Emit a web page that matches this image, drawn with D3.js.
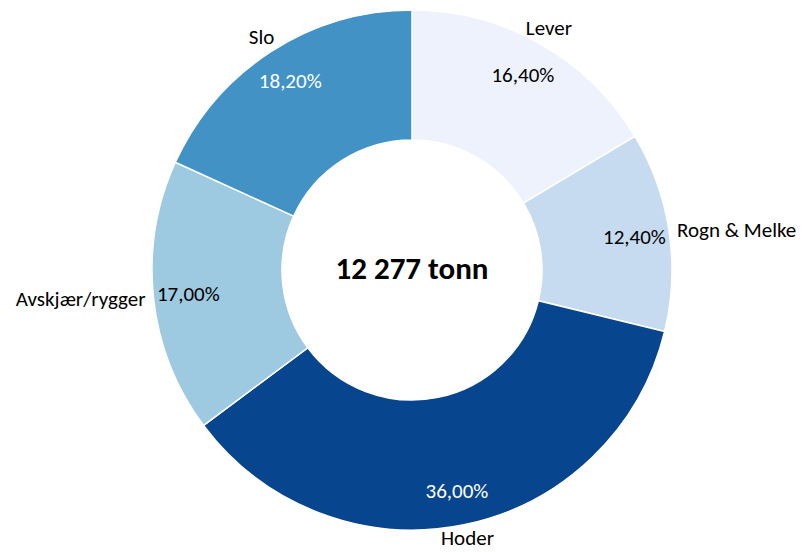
<!DOCTYPE html>
<html lang="no">
<head>
    <meta charset="UTF-8">
    <title>Donut</title>
    <script src="https://d3js.org/d3.v7.min.js"></script>
    <style>
        body{margin:0;background:#fff;}
        text{font-family:Calibri, Carlito, Lato, sans-serif;}
        .cat{fill:#000;font-size:21px;}
        .pct{font-size:21px;}
        .total{font-size:31px;font-weight:bold;fill:#000;}
    </style>
</head>
<body>
<svg id="main" width="807" height="552"></svg>
<script>
    // data, clockwise from 12 o'clock
    let categories = ['Lever', 'Rogn & Melke', 'Hoder', 'Avskjær/rygger', 'Slo'];
    let shares = [16.4, 12.4, 36.0, 17.0, 18.2];
    let shareLabels = ['16,40%', '12,40%', '36,00%', '17,00%', '18,20%'];
    let sliceColors = ['#edf2fd', '#c6dbef', '#08458f', '#9ecae1', '#4292c6'];
    let labelColors = ['#000', '#000', '#fff', '#000', '#fff'];
    let totalLabel = '12 277 tonn';

    let svg = d3.select('svg#main');
    let H = 552;
    let cx = 412, cy = 270;
    let outerR = 260, innerR = 130;

    let data = categories.map(function(c, i){
        return {cat: c, val: shares[i], lab: shareLabels[i], col: sliceColors[i], tcol: labelColors[i]};
    });

    let pie = d3.pie().sort(null).value(function(d){return d.val;});
    let arcs = pie(data);

    let arc = d3.arc().innerRadius(innerR).outerRadius(outerR);
    let g = svg.append('g').attr('transform', 'translate(' + cx + ',' + cy + ')');

    g.selectAll('path')
        .data(arcs)
        .enter()
        .append('path')
        .attr('d', arc)
        .attr('fill', function(d){return d.data.col;})
        .attr('stroke', '#fff')
        .attr('stroke-width', 1.5);

    // percentage labels inside the ring
    let midArc = d3.arc().innerRadius(225).outerRadius(225);
    g.selectAll('text.pct')
        .data(arcs)
        .enter()
        .append('text')
        .attr('class', 'pct')
        .attr('text-anchor', 'middle')
        .attr('dy', '0.35em')
        .attr('transform', function(d){return 'translate(' + midArc.centroid(d) + ')';})
        .style('fill', function(d){return d.data.tcol;})
        .text(function(d){return d.data.lab;});

    // category labels outside (kept inside the frame at the bottom)
    g.selectAll('text.cat')
        .data(arcs)
        .enter()
        .append('text')
        .attr('class', 'cat')
        .attr('dy', '0.35em')
        .each(function(d){
            let a = (d.startAngle + d.endAngle) / 2;
            let s = Math.sin(a);
            let side = Math.abs(s) > 0.9;
            let r = side ? 268 : 278;
            let anchor = side ? (s > 0 ? 'start' : 'end') : 'middle';
            let y = Math.min(-r * Math.cos(a), H - cy - 14);
            d3.select(this)
                .attr('x', r * s)
                .attr('y', y)
                .attr('text-anchor', anchor);
        })
        .text(function(d){return d.data.cat;});

    g.append('text')
        .attr('class', 'total')
        .attr('text-anchor', 'middle')
        .attr('dy', '0.35em')
        .attr('y', -2)
        .text(totalLabel);
</script>
</body>
</html>
